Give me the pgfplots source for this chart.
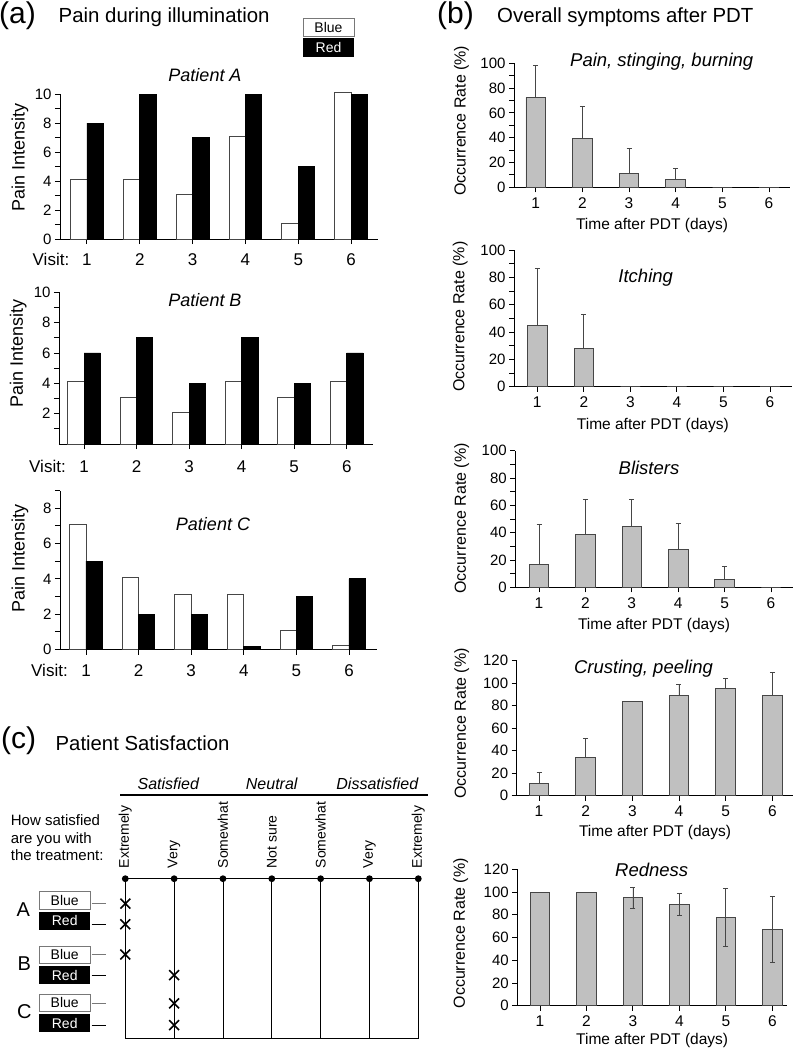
\documentclass[border=0pt]{standalone}
\usepackage{pgfplots}
\pgfplotsset{compat=1.18}
\usepackage{fontspec}
\setmainfont{Liberation Sans}
\definecolor{bargray}{RGB}{192,192,192}
\definecolor{edgegray}{RGB}{70,70,70}
\definecolor{boxgray}{RGB}{120,120,120}
\newcommand\fs[1]{\fontsize{#1}{#1}\selectfont}
\pgfplotsset{
  base/.style={
    scale only axis, anchor=south west,
    axis x line=bottom, axis y line=left,
    axis line style={-, line width=0.9pt, black},
    tick align=outside,
    major tick length=5pt, minor tick length=5pt,
    every tick/.append style={line width=0.9pt, black},
    /pgf/number format/assume math mode=true,
    ymin=0, xtick={1,...,6}, clip=false,
    yticklabel style={font=\fs{15}},
  },
  pain/.style={base,
    xticklabel style={font=\fs{17}, anchor=base},
    ylabel={Pain Intensity}, ylabel style={font=\fs{18}},
  },
  symp/.style={base, xlabel={Time after PDT (days)},
    ylabel={Occurrence Rate (\%)}, ylabel style={font=\fs{16}},
    xticklabel style={font=\fs{15.5}, anchor=base, yshift=-16pt},
    xlabel style={font=\fs{15.5}, at={(axis description cs:0.5,0)}, anchor=base},
  },
  blue/.style={ybar, bar width=0.31, bar shift=-0.155, fill=white, draw=edgegray, line width=0.8pt},
  red/.style={ybar, bar width=0.31, bar shift=0.155, fill=black, draw=black, line width=0.8pt},
  gbar/.style={ybar, bar width=0.42, fill=bargray, draw=edgegray, line width=0.8pt,
    error bars/y explicit, error bars/y dir=#1,
    error bars/error bar style={line width=0.8pt, edgegray},
    error bars/error mark options={rotate=90, line width=0.8pt, edgegray, mark size=2.5pt}},
}
\begin{document}
\begin{tikzpicture}[x=1pt,y=1pt]
\useasboundingbox (0,0) rectangle (796,-1050);

% ---------------- panel (a) ----------------
\node[anchor=base west, font=\fs{30}, inner sep=0] at (-1,-23.5) {(a)};
\node[anchor=base west, font=\fs{20.4}, inner sep=0] at (58.5,-22) {Pain during illumination};
\node[draw=boxgray, fill=white, minimum width=51pt, minimum height=18pt, inner sep=0, line width=0.8pt, font=\fs{14}] at (328.5,-27) {Blue};
\node[fill=black, text=white, minimum width=51pt, minimum height=19pt, inner sep=0, font=\fs{14}] at (328.5,-47.5) {Red};

\node[anchor=base, font=\itshape\fs{18}] at (205,-81.7) {Patient A};
\begin{axis}[pain, at={(60pt,-239pt)}, width=318pt, height=145pt,
  xmin=0.49, xmax=6.51, ymax=10, ytick={0,2,...,10}, minor ytick={1,3,...,9},
  xticklabel style={yshift=-21pt},
  ylabel style={at={(axis description cs:-0.126,0.559)}, anchor=center}]
\addplot[blue] coordinates {(1,4.1)(2,4.1)(3,3.1)(4,7.1)(5,1.1)(6,10.1)};
\addplot[red] coordinates {(1,8)(2,10)(3,7)(4,10)(5,5)(6,10)};
\end{axis}
\node[anchor=base west, font=\fs{17}, inner sep=0] at (32.5,-265) {Visit:};

\node[anchor=base, font=\itshape\fs{18}] at (205,-306) {Patient B};
\begin{axis}[pain, at={(59pt,-444pt)}, width=314pt, height=151.7pt,
  xmin=0.524, xmax=6.5, ymax=10, ytick={2,4,...,10}, minor ytick={1,3,...,9},
  xticklabel style={yshift=-23.7pt},
  ylabel style={at={(axis description cs:-0.13,0.598)}, anchor=center}]
\addplot[blue] coordinates {(1,4.1)(2,3.1)(3,2.1)(4,4.1)(5,3.1)(6,4.1)};
\addplot[red] coordinates {(1,6)(2,7)(3,4)(4,7)(5,4)(6,6)};
\end{axis}
\node[anchor=base west, font=\fs{17}, inner sep=0] at (29,-472.7) {Visit:};

\node[anchor=base, font=\itshape\fs{18}] at (213,-530.7) {Patient C};
\begin{axis}[pain, at={(60pt,-649.5pt)}, width=316.7pt, height=158.9pt,
  xmin=0.506, xmax=6.527, ymax=9, ytick={0,2,...,8}, minor ytick={1,3,...,9},
  xticklabel style={yshift=-22pt},
  ylabel style={at={(axis description cs:-0.126,0.574)}, anchor=center}]
\addplot[blue] coordinates {(1,7.1)(2,4.1)(3,3.1)(4,3.1)(5,1.1)(6,0.25)};
\addplot[red] coordinates {(1,5)(2,2)(3,2)(4,0.15)(5,3)(6,4)};
\end{axis}
\node[anchor=base west, font=\fs{17}, inner sep=0] at (31,-676.7) {Visit:};

% ---------------- panel (b) ----------------
\node[anchor=base west, font=\fs{30}, inner sep=0] at (437,-23.5) {(b)};
\node[anchor=base west, font=\fs{20.4}, inner sep=0] at (497,-22) {Overall symptoms after PDT};

\node[anchor=base, font=\itshape\fs{18.5}] at (661.7,-66.7) {Pain, stinging, burning};
\begin{axis}[symp, at={(514pt,-187.3pt)}, width=276pt, height=124pt,
  xmin=0.535, xmax=6.45, ymax=100, ytick={0,20,...,100}, minor ytick={10,30,...,90},
  xlabel style={yshift=-42pt},
  ylabel style={at={(axis description cs:-0.19,0.536)}, anchor=center}]
\addplot[gbar=plus] coordinates {(1,72.5)+-(0,25.5) (2,39.5)+-(0,25.5) (3,11.5)+-(0,19.5) (4,6)+-(0,9) (5,0)+-(0,0) (6,0)+-(0,0)};
\end{axis}

\node[anchor=base, font=\itshape\fs{18.5}] at (645.7,-282.7) {Itching};
\begin{axis}[symp, at={(514pt,-386.7pt)}, width=277.7pt, height=136.7pt,
  xmin=0.5, xmax=6.466, ymax=100, ytick={0,20,...,100}, minor ytick={10,30,...,90},
  xlabel style={yshift=-42.6pt},
  ylabel style={at={(axis description cs:-0.194,0.512)}, anchor=center}]
\addplot[gbar=plus] coordinates {(1,44.5)+-(0,42) (2,28)+-(0,25) (3,0)+-(0,0) (4,0)+-(0,0) (5,0)+-(0,0) (6,0)+-(0,0)};
\end{axis}

\node[anchor=base, font=\itshape\fs{18.5}] at (649,-474.3) {Blisters};
\begin{axis}[symp, at={(515.3pt,-587.3pt)}, width=277.4pt, height=136.6pt,
  xmin=0.489, xmax=6.468, ymax=100, ytick={0,20,...,100}, minor ytick={10,30,...,90},
  xlabel style={yshift=-42pt},
  ylabel style={at={(axis description cs:-0.193,0.505)}, anchor=center}]
\addplot[gbar=plus] coordinates {(1,17)+-(0,29) (2,39)+-(0,25.5) (3,44.5)+-(0,19.5) (4,28)+-(0,19) (5,6)+-(0,9) (6,0)+-(0,0)};
\end{axis}

\node[anchor=base, font=\itshape\fs{18.5}] at (643.5,-673.3) {Crusting, peeling};
\begin{axis}[symp, at={(516.7pt,-795.7pt)}, width=276.6pt, height=135pt,
  xmin=0.522, xmax=6.45, ymax=120, ytick={0,20,...,120},
  xlabel style={yshift=-41pt},
  ylabel style={at={(axis description cs:-0.199,0.536)}, anchor=center}]
\addplot[gbar=plus] coordinates {(1,11)+-(0,10) (2,34)+-(0,17) (3,83.5)+-(0,0) (4,89)+-(0,10) (5,95)+-(0,9.5) (6,89)+-(0,20.5)};
\end{axis}

\node[anchor=base, font=\itshape\fs{18.5}] at (651.7,-876) {Redness};
\begin{axis}[symp, at={(517.3pt,-1005.7pt)}, width=269.7pt, height=136.4pt,
  xmin=0.511, xmax=6.316, ymax=120, ytick={0,20,...,120},
  xlabel style={yshift=-38.3pt},
  ylabel style={at={(axis description cs:-0.21,0.531)}, anchor=center}]
\addplot[gbar=both] coordinates {(1,100)+-(0,0) (2,100)+-(0,0) (3,95)+-(0,9.5) (4,89)+-(0,9.7) (5,78)+-(0,25.5) (6,67)+-(0,29)};
\end{axis}

% ---------------- panel (c) ----------------
\node[anchor=base west, font=\fs{30}, inner sep=0] at (1,-748.6) {(c)};
\node[anchor=base west, font=\fs{20.3}, inner sep=0] at (55.5,-750) {Patient Satisfaction};

\node[anchor=base, font=\itshape\fs{16}] at (168.3,-789) {Satisfied};
\node[anchor=base, font=\itshape\fs{16}] at (271.7,-789) {Neutral};
\node[anchor=base, font=\itshape\fs{16}] at (377.3,-789) {Dissatisfied};
\draw[line width=1.2pt] (120,-795) -- (427.7,-795);

\node[anchor=base west, font=\fs{15}, inner sep=0] at (10.7,-825.7) {How satisfied};
\node[anchor=base west, font=\fs{15}, inner sep=0] at (10.7,-843.2) {are you with};
\node[anchor=base west, font=\fs{15}, inner sep=0] at (10.7,-860.7) {the treatment:};

\node[font=\fs{20}] at (23.3,-909.3) {A};
\node[font=\fs{20}] at (24.3,-963.3) {B};
\node[font=\fs{20}] at (24.3,-1011.7) {C};

\foreach \yb/\yr in {900.5/920.8, 954.7/975.2, 1002.8/1023.2} {
  \node[draw=boxgray, fill=white, minimum width=50.7pt, minimum height=17.6pt, inner sep=0, line width=0.8pt, font=\fs{14}] at (64.7,-\yb) {Blue};
  \node[fill=black, text=white, minimum width=50.7pt, minimum height=18.3pt, inner sep=0, font=\fs{14}] at (64.7,-\yr) {Red};
}
\foreach \y in {903.3, 954.3, 1003.3} \draw[boxgray, line width=1pt] (91.7,-\y) -- (106,-\y);
\foreach \y in {924, 975, 1025} \draw[black, line width=1pt] (91.7,-\y) -- (106,-\y);

\begin{axis}[scale only axis, anchor=south west, at={(125.3pt,-1038.3pt)},
  width=293pt, height=159.6pt, xmin=0, xmax=6, ymin=0, ymax=160,
  axis line style={line width=0.9pt, black},
  xtick={0,...,6}, xticklabels={Extremely,Very,Somewhat,Not sure,Somewhat,Very,Extremely},
  xticklabel pos=upper, major tick length=0pt, ytick=\empty,
  xticklabel style={rotate=90, anchor=west, font=\fs{14}},
  xticklabel shift=7pt,
  xmajorgrids, grid style={line width=0.9pt, black}, clip=false]
\addplot[black, line width=1.5pt, mark=*, mark size=2.6pt] coordinates {(0,160)(1,160)(2,160)(3,160)(4,160)(5,160)(6,160)};
\addplot[only marks, mark=x, mark size=7pt, mark options={line width=1.6pt, black}] coordinates {(0,135)(0,114.3)(0,84)(1,63.3)(1,35)(1,13.3)};
\end{axis}
\end{tikzpicture}
\end{document}
